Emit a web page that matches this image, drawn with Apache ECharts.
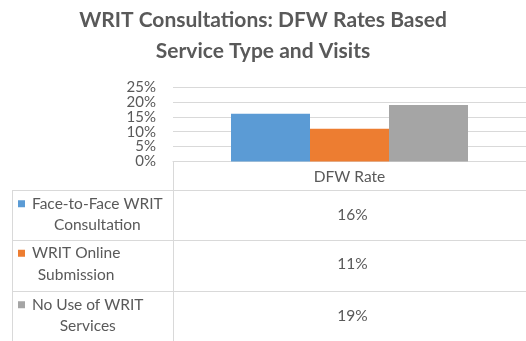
<!DOCTYPE html>
<html>
<head>
<meta charset="utf-8">
<script src="https://cdn.jsdelivr.net/npm/echarts@6/dist/echarts.min.js"></script>
<style>
  html, body { margin: 0; padding: 0; background: #fff; }
  #chart { width: 526px; height: 341px; }
</style>
</head>
<body>
<div id="chart"></div>
<script>
// Chart content
const titleText = 'WRIT Consultations: DFW Rates Based\nService Type and Visits';
const categories = ['DFW Rate'];
const seriesNames = ['Face-to-Face WRIT Consultation', 'WRIT Online Submission', 'No Use of WRIT Services'];
const seriesValues = [16, 11, 19];
const seriesColors = ['#5B9BD5', '#ED7D31', '#A5A5A5'];
const yTicks = { min: 0, max: 25, interval: 5 };

// Layout
const FONT = 'Lato, "Liberation Sans", sans-serif';
const TEXT = '#595959';
const LINE = '#D9D9D9';
const W = 526;
const gridLeft = 173, gridTop = 87, gridHeight = 74.5, gridRight = -6;
const gridWidth = W - gridLeft - gridRight;
const axisY = gridTop + gridHeight;
const tableLeft = 12;
const rowTops = [190, 239.5, 291];
const rowH = 51;
const labelFontSize = 15.5;
const labelTextX = 32;
const labelWrap = 145;

const measureCtx = document.createElement('canvas').getContext('2d');
measureCtx.font = labelFontSize + 'px ' + FONT;
function wrap(text, maxW) {
  const words = text.split(' ');
  const lines = [];
  let cur = '';
  words.forEach(w => {
    const t = cur ? cur + ' ' + w : w;
    if (cur && measureCtx.measureText(t).width > maxW) { lines.push(cur); cur = w; }
    else cur = t;
  });
  if (cur) lines.push(cur);
  return lines;
}

const chart = echarts.init(document.getElementById('chart'));

// Data table: grid lines, legend keys, row labels, values
const graphics = [];
const hLine = (x1, x2, y) => ({ type: 'line', silent: true, shape: { x1, y1: y, x2, y2: y }, style: { stroke: LINE, lineWidth: 1 } });
const vLine = (x, y1, y2) => ({ type: 'line', silent: true, shape: { x1: x, y1, x2: x, y2 }, style: { stroke: LINE, lineWidth: 1 } });
graphics.push(vLine(gridLeft + 0.5, axisY, 341));
graphics.push(vLine(tableLeft + 0.5, rowTops[0], 341));
rowTops.forEach(t => graphics.push(hLine(tableLeft, W, Math.round(t) + 0.5)));

const catCenter = gridLeft + gridWidth / 2;
seriesNames.forEach((name, i) => {
  const lines = wrap(name, labelWrap);
  const lh = 21.5;
  const cy = rowTops[i] + rowH / 2 - 1;
  const firstY = cy - (lines.length - 1) * lh / 2;
  const w1 = measureCtx.measureText(lines[0]).width;
  graphics.push({
    type: 'rect', silent: true,
    shape: { x: 18, y: firstY - 3.5, width: 7, height: 7 },
    style: { fill: seriesColors[i] }
  });
  graphics.push({
    type: 'text', silent: true,
    x: labelTextX + w1 / 2, y: cy,
    style: {
      text: lines.join('\n'), font: labelFontSize + 'px ' + FONT, fill: TEXT,
      align: 'center', verticalAlign: 'middle', lineHeight: lh
    }
  });
  graphics.push({
    type: 'text', silent: true,
    x: catCenter, y: cy,
    style: {
      text: seriesValues[i] + '%', font: labelFontSize + 'px ' + FONT, fill: TEXT,
      align: 'center', verticalAlign: 'middle'
    }
  });
});

chart.setOption({
  animation: false,
  backgroundColor: '#fff',
  title: {
    text: titleText,
    left: 'center',
    top: 0,
    textStyle: { fontFamily: FONT, fontWeight: 'bold', fontSize: 21, color: TEXT, lineHeight: 31 }
  },
  grid: { left: gridLeft, top: gridTop, height: gridHeight, right: gridRight, containLabel: false },
  xAxis: {
    type: 'category',
    data: categories,
    axisLine: { show: true, lineStyle: { color: LINE } },
    axisTick: { show: false },
    axisLabel: { margin: 7, fontFamily: FONT, fontSize: labelFontSize, color: TEXT }
  },
  yAxis: {
    type: 'value',
    min: yTicks.min, max: yTicks.max, interval: yTicks.interval,
    axisLine: { show: false },
    axisTick: { show: false },
    splitLine: { lineStyle: { color: LINE } },
    axisLabel: {
      margin: 17, formatter: '{value}%', fontFamily: FONT, fontSize: 15, color: TEXT,
      showMinLabel: true, showMaxLabel: true, hideOverlap: false
    }
  },
  series: seriesNames.map((name, i) => ({
    name,
    type: 'bar',
    data: [seriesValues[i]],
    barWidth: 79,
    barGap: '0%',
    itemStyle: { color: seriesColors[i] }
  })),
  graphic: graphics
});
</script>
</body>
</html>
